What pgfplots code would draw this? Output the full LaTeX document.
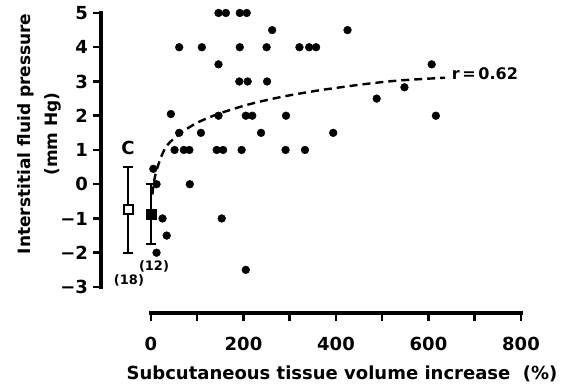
\documentclass[border=0pt]{standalone}
\usepackage{fontspec}
\setmainfont{DejaVu Sans}
\usepackage{pgfplots}
\pgfplotsset{compat=1.18}
\begin{document}
\begin{tikzpicture}
\path[use as bounding box] (-101.5pt,-73pt) rectangle (477.5pt,313pt);
\begin{axis}[
  x=0.4625pt, y=34.25pt,
  xmin=-107, xmax=800, ymin=-3.76, ymax=5,
  axis lines*=left,
  axis line style={draw=none},
  tick align=outside,
  major tick length=8pt, minor tick length=8pt,
  tick style={line width=2.5pt, black},
  xtick={0,200,400,600,800},
  minor xtick={100,300,500,700},
  ytick={-3,-2,-1,0,1,2,3,4,5},
  yticklabels={−3,−2,−1,0,1,2,3,4,5},
  /pgf/number format/assume math mode=true,
  tick label style={font=\fontsize{18}{20}\selectfont\bfseries},
  yticklabel style={xshift=-2pt},
  xticklabel style={yshift=-13pt},
  clip=false,
]
% axis lines
\draw[line width=4pt, line cap=rect, black] (axis cs:-107,-3) -- (axis cs:-107,5);
\draw[line width=3.5pt, line cap=rect, black] (axis cs:0,-3.76) -- (axis cs:800,-3.76);
% data points
\addplot[only marks, mark=*, mark size=3.9pt, black] coordinates {
(146,5) (162,5) (192,5) (207,5)
(262,4.5) (425,4.5)
(61,4) (110,4) (192,4) (250,4) (321,4) (342,4) (357,4)
(146,3.5) (607,3.5)
(191,3) (209,3) (251,3)
(548,2.83)
(488,2.5)
(43,2.05) (146,2) (205,2) (219,2) (292,2) (616,2)
(61,1.5) (108,1.5) (238,1.5) (394,1.5)
(51,1) (71,1) (83,1) (142,1) (156,1) (196,1) (291,1) (333,1)
(5,0.45)
(12,0) (84,0)
(25,-1) (153,-1)
(34,-1.5)
(12,-2)
(205,-2.5)
};
% fitted curve
\addplot[black, line width=2.4pt, dash pattern=on 8pt off 5pt, smooth] coordinates {
(3,-0.3) (8.6,0.22) (19.5,0.71) (34,1.12) (60.5,1.46) (91,1.73) (110,1.86)
(149,2.07) (214,2.34) (286,2.56) (358,2.73) (394,2.80) (466,2.93) (538,3.03) (636,3.11)
};
% control (open square)
\addplot[black, only marks, mark=square*, mark size=4.5pt,
  mark options={fill=white, draw=black, line width=1.6pt},
  error bars/.cd, y dir=both, y explicit,
  error bar style={line width=2pt},
  error mark options={rotate=90, mark size=5pt, line width=2pt}]
  coordinates {(-49,-0.73) += (0,1.24) -= (0,1.29)};
% filled square
\addplot[black, only marks, mark=square*, mark size=4.8pt,
  mark options={fill=black, draw=black},
  error bars/.cd, y dir=both, y explicit,
  error bar style={line width=2pt},
  error mark options={rotate=90, mark size=5pt, line width=2pt}]
  coordinates {(0,-0.87) += (0,0.87) -= (0,0.87)};
% annotations
\node[font=\fontsize{18}{20}\selectfont\bfseries] at (axis cs:-49.7,1.06) {C};
\node[font=\fontsize{13}{15}\selectfont\bfseries] at (axis cs:-47.6,-2.80) {(18)};
\node[font=\fontsize{13}{15}\selectfont\bfseries] at (axis cs:6.5,-2.41) {(12)};
\node[font=\fontsize{16}{18}\selectfont\bfseries, anchor=west, inner sep=0pt] at (axis cs:650,3.24) {r\,=\,0.62};
\node[font=\fontsize{17}{27}\selectfont\bfseries, rotate=90, align=center] at (axis cs:-242,1.47) {Interstitial fluid pressure\\(mm Hg)};
\node[font=\fontsize{18}{20}\selectfont\bfseries, anchor=base] at (axis cs:413,-5.69) {Subcutaneous tissue volume increase\ \ (\%)};
\end{axis}
\end{tikzpicture}
\end{document}
